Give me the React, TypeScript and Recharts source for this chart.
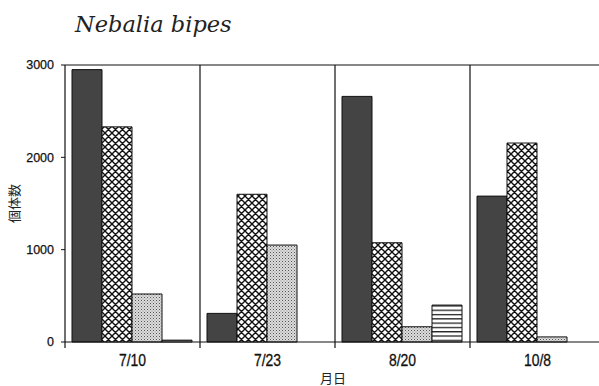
import React from 'react';
import { BarChart, Bar, XAxis, YAxis, CartesianGrid, ReferenceLine } from 'recharts';

const categories = ['7/10', '7/23', '8/20', '10/8'];
const seriesA = [2950, 310, 2660, 1580];
const seriesB = [2330, 1600, 1075, 2155];
const seriesC = [520, 1050, 165, 55];
const seriesD = [20, 0, 400, 0];
const yTicks = [0, 1000, 2000, 3000];
const title = 'Nebalia bipes';
const yTitle = '個体数';
const xTitle = '月日';

const data = categories.map((c, i) => ({
  cat: c,
  a: seriesA[i],
  b: seriesB[i],
  c: seriesC[i],
  d: seriesD[i],
}));

const XTick = (props: any) => {
  const { x, y, payload } = props;
  const half = payload && typeof payload.offset === 'number' ? payload.offset : 67.5;
  return (
    <g>
      <line x1={x - half} y1={y} x2={x - half} y2={y + 6} stroke="#111" strokeWidth={1.2} />
      <text
        x={x}
        y={y + 24}
        textAnchor="middle"
        fontFamily="'Liberation Sans', Arial, sans-serif"
        fontSize={17}
        fill="#111"
        stroke="#111"
        strokeWidth={0.3}
        transform={`translate(${x} 0) scale(0.82 1) translate(${-x} 0)`}
      >
        {payload.value}
      </text>
    </g>
  );
};

export default function App() {
  return (
    <div style={{ position: 'absolute', left: 0, top: 0, width: 599, height: 386, overflow: 'hidden', background: '#fff' }}>
      <svg width={0} height={0} style={{ position: 'absolute' }}>
        <defs>
          <pattern id="cross" patternUnits="userSpaceOnUse" width={7} height={7}>
            <rect width={7} height={7} fill="#fff" />
            <path d="M0,0 L7,7 M7,0 L0,7 M-1,6 L1,8 M6,-1 L8,1 M-1,1 L1,-1 M6,8 L8,6" stroke="#111" strokeWidth={1.4} />
          </pattern>
          <pattern id="dots" patternUnits="userSpaceOnUse" width={3} height={3}>
            <rect width={3} height={3} fill="#dcdcdc" />
            <rect x={0} y={0} width={1} height={1} fill="#555" />
            <rect x={1.5} y={1.5} width={1} height={1} fill="#888" />
          </pattern>
          <pattern id="stripes" patternUnits="userSpaceOnUse" width={8} height={4.3}>
            <rect width={8} height={4.3} fill="#fff" />
            <rect x={0} y={0} width={8} height={1.3} fill="#222" />
          </pattern>
        </defs>
      </svg>
      <div
        style={{
          position: 'absolute',
          left: 75,
          top: 13,
          fontFamily: "'DejaVu Serif', serif",
          fontStyle: 'italic',
          fontSize: 22.5,
          lineHeight: 1,
          color: '#222',
          whiteSpace: 'nowrap',
        }}
      >
        {title}
      </div>
      <BarChart
        width={610}
        height={386}
        data={data}
        margin={{ top: 65, right: 5, bottom: 14, left: 0 }}
        barCategoryGap={7}
        barGap={0}
      >
        <CartesianGrid
          horizontal={false}
          stroke="#111"
          strokeWidth={1.2}
          verticalCoordinatesGenerator={(p: any) => {
            const o = p.offset;
            return [1, 2, 3].map((i) => o.left + (i * o.width) / 4);
          }}
        />
        <XAxis
          dataKey="cat"
          height={30}
          tickSize={0}
          tickMargin={0}
          tickLine={false}
          axisLine={{ stroke: '#111', strokeWidth: 1.2 }}
          tick={<XTick />}
          interval={0}
          label={{
            content: (p: any) => {
              const vb = p.viewBox;
              return (
                <text
                  x={vb.x + vb.width / 2 - 2}
                  y={vb.y + 41}
                  textAnchor="middle"
                  fontFamily="'Noto Sans CJK JP', sans-serif"
                  fontSize={13}
                  fill="#222"
                >
                  {xTitle}
                </text>
              );
            },
          }}
        />
        <YAxis
          width={65}
          domain={[0, 3000]}
          ticks={yTicks}
          tickSize={4}
          tickMargin={7}
          tickLine={{ stroke: '#111' }}
          axisLine={{ stroke: '#111', strokeWidth: 1.2 }}
          tick={{ fontFamily: "'Liberation Sans', Arial, sans-serif", fontSize: 12.5, fill: '#111', stroke: '#111', strokeWidth: 0.25 }}
          label={{
            content: (p: any) => {
              const vb = p.viewBox;
              const cx = vb.x + 13;
              const cy = vb.y + vb.height / 2;
              return (
                <text
                  x={cx}
                  y={cy}
                  textAnchor="middle"
                  dominantBaseline="central"
                  fontFamily="'Noto Sans CJK JP', sans-serif"
                  fontSize={13}
                  fill="#222"
                  transform={`rotate(-90 ${cx} ${cy})`}
                >
                  {yTitle}
                </text>
              );
            },
          }}
        />
        <ReferenceLine y={3000} stroke="#111" strokeWidth={1.2} />
        <Bar dataKey="a" fill="#444" stroke="#111" strokeWidth={1} isAnimationActive={false} />
        <Bar dataKey="b" fill="url(#cross)" stroke="#111" strokeWidth={1} isAnimationActive={false} />
        <Bar dataKey="c" fill="url(#dots)" stroke="#111" strokeWidth={1} isAnimationActive={false} />
        <Bar dataKey="d" fill="url(#stripes)" stroke="#111" strokeWidth={1} isAnimationActive={false} />
      </BarChart>
    </div>
  );
}
